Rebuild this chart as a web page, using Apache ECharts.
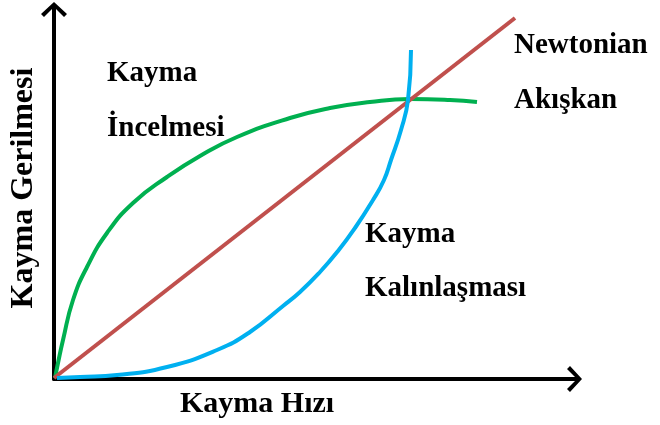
<!DOCTYPE html>
<html>
<head>
<meta charset="utf-8">
<script src="https://cdn.jsdelivr.net/npm/echarts@6/dist/echarts.min.js"></script>
<style>html,body{margin:0;padding:0;background:#fff}#c{width:660px;height:425px}</style>
</head>
<body>
<div id="c"></div>
<script>
// Values (x: shear rate, y: shear stress, arbitrary units)
const newtonianX = [0, 461];
const newtonianY = [1, 361];
const thinningX = [1, 4, 9, 19, 33, 53, 79, 113, 146, 183, 236, 276, 316, 356, 396, 423];
const thinningY = [1, 16, 39, 79, 112, 146, 176, 202, 223, 242, 261, 271, 277, 280, 279, 277];
const thickeningX = [3, 26, 63, 113, 163, 196, 229, 246, 266, 284, 301, 319, 330, 337, 347, 354, 357];
const thickeningY = [1, 2, 4, 12, 29, 47, 73, 87, 107, 128, 151, 179, 199, 219, 249, 279, 329];
const xAxisName = 'Kayma Hızı';
const yAxisName = 'Kayma Gerilmesi';
const labels = [
  { text: 'Kayma', x: 107, y: 74 },
  { text: 'İncelmesi', x: 107, y: 129 },
  { text: 'Newtonian', x: 514, y: 46 },
  { text: 'Akışkan', x: 514, y: 101 },
  { text: 'Kayma', x: 365, y: 235 },
  { text: 'Kalınlaşması', x: 365, y: 289 }
];

const FONT = '"Liberation Serif", "Times New Roman", serif';
const FS = 29;
const arrowPath = 'path://M13 0 L26 12 L23 15 L15 7 L15 26 L11 26 L11 7 L3 15 L0 12 Z';

function zip(xs, ys) { return xs.map((x, i) => [x, ys[i]]); }

const chart = echarts.init(document.getElementById('c'), null, { renderer: 'canvas' });
const axisCommon = {
  type: 'value',
  axisLine: { show: true, onZero: false, lineStyle: { color: '#000', width: 4 },
    symbol: ['none', arrowPath], symbolSize: [26, 26] },
  axisTick: { show: false },
  axisLabel: { show: false },
  splitLine: { show: false }
};
const graphics = labels.map(l => ({
  type: 'text', x: l.x, y: l.y, z: 10,
  style: { text: l.text, fill: '#000', font: 'bold ' + FS + 'px ' + FONT, textAlign: 'left', verticalAlign: 'middle' }
}));
graphics.push({
  type: 'text', x: 180, y: 404, z: 10,
  style: { text: xAxisName, fill: '#000', font: 'bold 30px ' + FONT, textAlign: 'left', verticalAlign: 'middle' }
});
graphics.push({
  type: 'text', x: 24, y: 188, rotation: Math.PI / 2, z: 10,
  style: { text: yAxisName, fill: '#000', font: 'bold 32px ' + FONT, textAlign: 'center', verticalAlign: 'middle' }
});

chart.setOption({
  animation: false,
  backgroundColor: '#fff',
  grid: { left: 54, right: 91, top: 15, bottom: 46 },
  xAxis: Object.assign({ min: 0, max: 515 }, axisCommon),
  yAxis: Object.assign({ min: 0, max: 364 }, axisCommon),
  series: [
    { type: 'line', data: zip(thinningX, thinningY), smooth: 0.5, showSymbol: false, lineStyle: { color: '#00B050', width: 4 }, z: 2 },
    { type: 'line', data: zip(newtonianX, newtonianY), showSymbol: false, lineStyle: { color: '#C0504D', width: 4 }, z: 3 },
    { type: 'line', data: zip(thickeningX, thickeningY), smooth: 0.5, showSymbol: false, lineStyle: { color: '#00B0F0', width: 4 }, z: 4 }
  ],
  graphic: graphics
});
</script>
</body>
</html>
